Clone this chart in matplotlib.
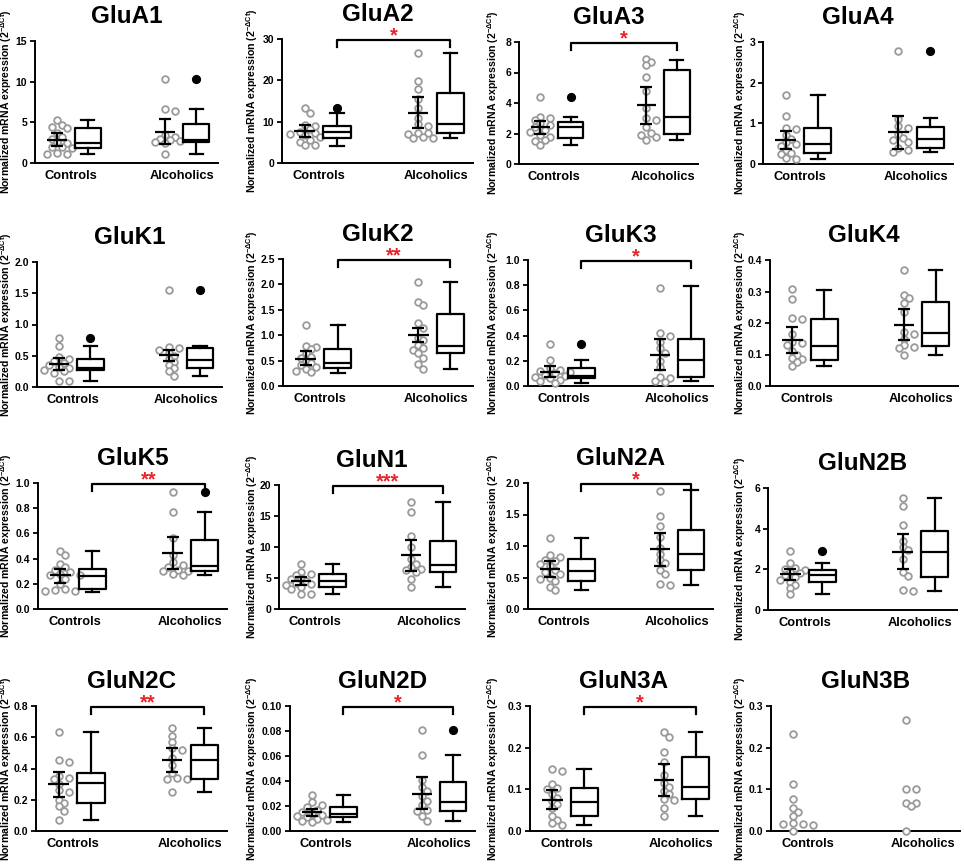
import matplotlib
matplotlib.use('Agg')
import matplotlib.pyplot as plt
import matplotlib.transforms as mtransforms
import numpy as np

plt.rcParams['font.family'] = ['Liberation Sans', 'DejaVu Sans']
plt.rcParams['font.weight'] = 'bold'
plt.rcParams['mathtext.fontset'] = 'custom'
plt.rcParams['mathtext.rm'] = 'Liberation Sans:bold'
plt.rcParams['mathtext.it'] = 'Liberation Sans:bold'
plt.rcParams['mathtext.bf'] = 'Liberation Sans:bold'
plt.rcParams['mathtext.default'] = 'bf'

# ---------------- data ----------------
genes = ['GluA1', 'GluA2', 'GluA3', 'GluA4',
         'GluK1', 'GluK2', 'GluK3', 'GluK4',
         'GluK5', 'GluN1', 'GluN2A', 'GluN2B',
         'GluN2C', 'GluN2D', 'GluN3A', 'GluN3B']
group_labels = ['Controls', 'Alcoholics']
y_max = [15, 30, 8, 3, 2.0, 2.5, 1.0, 0.4, 1.0, 20, 2.0, 6, 0.8, 0.10, 0.3, 0.3]
y_step = [5, 10, 2, 1, 0.5, 0.5, 0.2, 0.1, 0.2, 5, 0.5, 2, 0.2, 0.02, 0.1, 0.1]
y_decimals = [0, 0, 0, 0, 1, 1, 1, 1, 1, 0, 1, 0, 1, 2, 1, 1]
significance = ['', '*', '*', '', '', '**', '*', '', '**', '***', '*', '', '**', '*', '*', '']

# individual values: controls / alcoholics
GluA1_ctrl = [5.3, 4.7, 4.45, 4.3, 3.7, 3.2, 3.0, 2.6, 2.45, 2.0, 2.0, 1.9, 1.2, 1.15, 1.15]
GluA1_alc = [10.3, 6.6, 6.4, 3.4, 3.2, 3.0, 2.85, 2.7, 2.55, 2.45, 1.1]
GluA2_ctrl = [13.3, 12.0, 9.2, 9.0, 8.2, 7.6, 7.2, 7.0, 6.8, 6.4, 5.6, 5.2, 4.3, 4.3]
GluA2_alc = [26.5, 19.8, 17.8, 15.5, 13.2, 11.0, 9.5, 9.0, 7.3, 7.2, 7.0, 6.4, 6.0, 6.0]
GluA3_ctrl = [4.4, 3.1, 3.0, 2.9, 2.7, 2.55, 2.4, 2.25, 2.1, 1.9, 1.8, 1.55, 1.5, 1.25]
GluA3_alc = [6.9, 6.7, 6.5, 5.7, 4.8, 3.7, 3.0, 2.9, 2.4, 2.05, 1.9, 1.75, 1.6]
GluA4_ctrl = [1.7, 1.17, 0.88, 0.85, 0.72, 0.62, 0.55, 0.5, 0.45, 0.35, 0.27, 0.25, 0.14, 0.12]
GluA4_alc = [2.77, 1.1, 0.93, 0.88, 0.75, 0.65, 0.6, 0.55, 0.4, 0.35, 0.3]
GluK1_ctrl = [0.78, 0.66, 0.48, 0.45, 0.42, 0.38, 0.35, 0.32, 0.3, 0.28, 0.25, 0.22, 0.1, 0.1]
GluK1_alc = [1.56, 0.64, 0.62, 0.6, 0.55, 0.5, 0.45, 0.4, 0.35, 0.3, 0.25, 0.18]
GluK2_ctrl = [1.2, 0.78, 0.77, 0.72, 0.65, 0.58, 0.55, 0.5, 0.45, 0.42, 0.38, 0.33, 0.3, 0.27]
GluK2_alc = [2.05, 1.65, 1.6, 1.24, 1.15, 0.95, 0.9, 0.8, 0.75, 0.7, 0.65, 0.55, 0.43, 0.33]
GluK3_ctrl = [0.33, 0.21, 0.14, 0.13, 0.12, 0.11, 0.1, 0.09, 0.08, 0.07, 0.06, 0.05, 0.04, 0.02]
GluK3_alc = [0.78, 0.42, 0.40, 0.35, 0.30, 0.26, 0.20, 0.15, 0.07, 0.06, 0.04, 0.035]
GluK4_ctrl = [0.307, 0.275, 0.215, 0.213, 0.165, 0.14, 0.135, 0.13, 0.11, 0.1, 0.09, 0.085, 0.075, 0.065]
GluK4_alc = [0.367, 0.29, 0.28, 0.265, 0.235, 0.17, 0.165, 0.15, 0.13, 0.125, 0.12, 0.098]
GluK5_ctrl = [0.46, 0.43, 0.36, 0.33, 0.31, 0.29, 0.28, 0.27, 0.27, 0.24, 0.2, 0.16, 0.15, 0.14, 0.14]
GluK5_alc = [0.93, 0.77, 0.56, 0.43, 0.37, 0.35, 0.33, 0.31, 0.3, 0.3, 0.28, 0.27]
GluN1_ctrl = [7.2, 6.0, 5.6, 5.5, 5.0, 4.8, 4.5, 4.2, 4.0, 3.8, 3.5, 3.2, 2.5, 2.5]
GluN1_alc = [17.3, 15.7, 11.8, 10.0, 8.0, 7.3, 6.8, 6.5, 6.3, 6.0, 4.8, 3.5]
GluN2A_ctrl = [1.12, 0.85, 0.82, 0.78, 0.76, 0.72, 0.68, 0.62, 0.58, 0.55, 0.5, 0.47, 0.45, 0.35, 0.3]
GluN2A_alc = [1.88, 1.48, 1.32, 1.15, 0.97, 0.88, 0.78, 0.73, 0.62, 0.55, 0.4, 0.38]
GluN2B_ctrl = [2.9, 2.3, 2.05, 2.0, 1.95, 1.85, 1.8, 1.7, 1.6, 1.5, 1.4, 1.25, 1.1, 0.8]
GluN2B_alc = [5.5, 5.1, 4.2, 3.4, 3.1, 2.95, 2.5, 1.85, 1.65, 1.0, 0.95]
GluN2C_ctrl = [0.635, 0.455, 0.44, 0.35, 0.34, 0.33, 0.30, 0.26, 0.25, 0.20, 0.18, 0.16, 0.13, 0.07]
GluN2C_alc = [0.66, 0.61, 0.57, 0.53, 0.52, 0.47, 0.42, 0.37, 0.34, 0.33, 0.33, 0.25]
GluN2D_ctrl = [0.029, 0.023, 0.021, 0.019, 0.017, 0.015, 0.014, 0.013, 0.012, 0.011, 0.010, 0.009, 0.008, 0.007]
GluN2D_alc = [0.081, 0.061, 0.041, 0.035, 0.032, 0.028, 0.024, 0.021, 0.017, 0.016, 0.012, 0.008]
GluN3A_ctrl = [0.148, 0.145, 0.112, 0.103, 0.1, 0.09, 0.08, 0.072, 0.065, 0.055, 0.037, 0.027, 0.02, 0.015]
GluN3A_alc = [0.238, 0.225, 0.19, 0.165, 0.135, 0.115, 0.105, 0.095, 0.088, 0.078, 0.075, 0.056, 0.035]
GluN3B_ctrl = [0.232, 0.112, 0.077, 0.055, 0.045, 0.037, 0.02, 0.018, 0.016, 0.015, 0.0]
GluN3B_alc = [0.267, 0.1, 0.1, 0.068, 0.067, 0.06, 0.0]

# mean with CI: (mean, low, high) for controls, alcoholics
GluA1_mean = [(2.86, 2.1, 3.67), (3.84, 2.37, 5.4)]
GluA2_mean = [(7.64, 6.36, 9.1), (12.1, 8.4, 16.0)]
GluA3_mean = [(2.4, 1.95, 2.85), (3.85, 2.6, 5.05)]
GluA4_mean = [(0.59, 0.37, 0.82), (0.78, 0.38, 1.17)]
GluK1_mean = [(0.37, 0.27, 0.47), (0.52, 0.42, 0.6)]
GluK2_mean = [(0.54, 0.41, 0.68), (1.0, 0.87, 1.14)]
GluK3_mean = [(0.11, 0.07, 0.155), (0.25, 0.125, 0.375)]
GluK4_mean = [(0.147, 0.105, 0.187), (0.195, 0.146, 0.244)]
GluK5_mean = [(0.27, 0.21, 0.32), (0.445, 0.32, 0.57)]
GluN1_mean = [(4.5, 3.8, 5.2), (8.65, 6.2, 11.1)]
GluN2A_mean = [(0.63, 0.51, 0.76), (0.95, 0.68, 1.2)]
GluN2B_mean = [(1.75, 1.47, 2.02), (2.87, 2.0, 3.75)]
GluN2C_mean = [(0.3, 0.22, 0.38), (0.455, 0.375, 0.53)]
GluN2D_mean = [(0.015, 0.012, 0.018), (0.030, 0.018, 0.043)]
GluN3A_mean = [(0.075, 0.052, 0.098), (0.123, 0.085, 0.162)]
GluN3B_mean = None

# box plots: (whisker low, q1, median, q3, whisker high, outliers)
GluA1_box = [(1.15, 1.85, 2.4, 4.3, 5.3, []), (1.1, 2.6, 2.86, 4.75, 6.6, [10.3])]
GluA2_box = [(4.1, 6.0, 7.4, 9.0, 12.0, [13.3]), (6.0, 7.2, 9.5, 16.9, 26.5, [])]
GluA3_box = [(1.25, 1.7, 2.45, 2.75, 3.1, [4.4]), (1.6, 1.95, 3.05, 6.15, 6.85, [])]
GluA4_box = [(0.13, 0.27, 0.5, 0.88, 1.7, []), (0.3, 0.4, 0.62, 0.91, 1.12, [2.77])]
GluK1_box = [(0.1, 0.27, 0.31, 0.45, 0.66, [0.78]), (0.18, 0.31, 0.43, 0.62, 0.65, [1.56])]
GluK2_box = [(0.26, 0.36, 0.45, 0.73, 1.2, []), (0.33, 0.64, 0.78, 1.42, 2.05, [])]
GluK3_box = [(0.02, 0.06, 0.08, 0.14, 0.21, [0.33]), (0.04, 0.07, 0.21, 0.37, 0.79, [])]
GluK4_box = [(0.065, 0.082, 0.127, 0.213, 0.306, []), (0.098, 0.127, 0.167, 0.268, 0.367, [])]
GluK5_box = [(0.135, 0.16, 0.265, 0.32, 0.46, []), (0.27, 0.3, 0.345, 0.55, 0.77, [0.93])]
GluN1_box = [(2.5, 3.6, 4.5, 5.6, 7.2, []), (3.5, 6.0, 7.1, 11.0, 17.3, [])]
GluN2A_box = [(0.3, 0.45, 0.61, 0.8, 1.12, []), (0.38, 0.62, 0.87, 1.26, 1.89, [])]
GluN2B_box = [(0.8, 1.4, 1.72, 1.98, 2.3, [2.9]), (0.95, 1.63, 2.87, 3.87, 5.52, [])]
GluN2C_box = [(0.07, 0.18, 0.31, 0.37, 0.635, []), (0.25, 0.33, 0.455, 0.55, 0.66, [])]
GluN2D_box = [(0.007, 0.011, 0.0135, 0.019, 0.029, []), (0.008, 0.016, 0.023, 0.039, 0.061, [0.081])]
GluN3A_box = [(0.015, 0.036, 0.07, 0.104, 0.148, []), (0.035, 0.076, 0.106, 0.178, 0.238, [])]
GluN3B_box = None

points = [(GluA1_ctrl, GluA1_alc), (GluA2_ctrl, GluA2_alc), (GluA3_ctrl, GluA3_alc), (GluA4_ctrl, GluA4_alc),
          (GluK1_ctrl, GluK1_alc), (GluK2_ctrl, GluK2_alc), (GluK3_ctrl, GluK3_alc), (GluK4_ctrl, GluK4_alc),
          (GluK5_ctrl, GluK5_alc), (GluN1_ctrl, GluN1_alc), (GluN2A_ctrl, GluN2A_alc), (GluN2B_ctrl, GluN2B_alc),
          (GluN2C_ctrl, GluN2C_alc), (GluN2D_ctrl, GluN2D_alc), (GluN3A_ctrl, GluN3A_alc), (GluN3B_ctrl, GluN3B_alc)]
means = [GluA1_mean, GluA2_mean, GluA3_mean, GluA4_mean, GluK1_mean, GluK2_mean, GluK3_mean, GluK4_mean,
         GluK5_mean, GluN1_mean, GluN2A_mean, GluN2B_mean, GluN2C_mean, GluN2D_mean, GluN3A_mean, GluN3B_mean]
boxes = [GluA1_box, GluA2_box, GluA3_box, GluA4_box, GluK1_box, GluK2_box, GluK3_box, GluK4_box,
         GluK5_box, GluN1_box, GluN2A_box, GluN2B_box, GluN2C_box, GluN2D_box, GluN3A_box, GluN3B_box]

# ---------------- layout (pixels) ----------------
W, H = 964, 868
axes_px = [(35, 218, 41, 163), (282, 473, 39, 163), (519, 698, 42, 164), (763, 953, 42, 164),
           (37, 222, 262, 387), (283, 473, 259, 386), (528, 713, 260, 386), (770, 958, 260, 386),
           (38, 227, 483, 609), (279, 465, 485, 609), (528, 713, 483, 609), (768, 957, 488, 610),
           (36, 227, 706, 831), (290, 475, 706, 831), (530, 718, 706, 831), (771, 960, 706, 831)]
ylabel_x = [6, 252, 493, 740]
scatter_x = [1.0, 4.5]
box_x = [2.0, 5.5]
label_x = [1.45, 5.05]
XLIM = (0.3, 6.2)

ylabel_text = r'Normalized mRNA expression (2$^{-\Delta Ct}$)'
gray = '#9a9a9a'
red = '#e8242b'

fig = plt.figure(figsize=(W / 100, H / 100), dpi=100)


def swarm_positions(ax, x0, vals, diam=5.6, step=5.0):
    trans = ax.transData
    p0 = trans.transform((x0, 0.0))
    ux = trans.transform((x0 + 1.0, 0.0))[0] - p0[0]
    order = sorted(range(len(vals)), key=lambda i: -vals[i])
    placed = []
    xs = [0.0] * len(vals)
    cands = [0]
    for k in range(1, 12):
        cands += [k, -k]
    for i in order:
        py = trans.transform((x0, vals[i]))[1]
        px = 0.0
        for k in cands:
            px = k * step
            if all((px - qx) ** 2 + (py - qy) ** 2 >= diam ** 2 for qx, qy in placed):
                break
        placed.append((px, py))
        xs[i] = x0 + px / ux
    return xs


for idx, gene in enumerate(genes):
    l, r, t, b = axes_px[idx]
    ax = fig.add_axes([l / W, 1 - b / H, (r - l) / W, (b - t) / H])
    ax.set_xlim(*XLIM)
    ax.set_ylim(0, y_max[idx])
    for s in ['top', 'right']:
        ax.spines[s].set_visible(False)
    for s in ['left', 'bottom']:
        ax.spines[s].set_linewidth(1.4)
    ticks = np.round(np.arange(0, y_max[idx] + y_step[idx] / 2, y_step[idx]), 6)
    ax.set_yticks(ticks)
    ax.set_yticklabels([f'{v:.{y_decimals[idx]}f}' for v in ticks], fontsize=7.5, fontweight='bold')
    ax.tick_params(axis='y', direction='out', length=3.5, width=1.3, pad=2)
    ax.set_xticks(label_x)
    ax.set_xticklabels(group_labels, fontsize=9.3, fontweight='bold')
    ax.tick_params(axis='x', length=0, pad=5)
    ax.set_title(gene, fontsize=17.5, fontweight='bold', pad=13)

    # y label
    fig.text(ylabel_x[idx % 4] / W, 1 - ((t + b) / 2) / H, ylabel_text, rotation=90,
             ha='center', va='center', fontsize=7.6, fontweight='bold')

    # scatter points
    for g in range(2):
        vals = points[idx][g]
        xs = swarm_positions(ax, scatter_x[g], vals)
        ax.plot(xs, vals, 'o', ms=4.8, mfc='white', mec=gray, mew=1.3, ls='none',
                clip_on=False, zorder=3)

    # mean +/- CI
    if means[idx] is not None:
        for g in range(2):
            m, lo, hi = means[idx][g]
            ax.hlines(m, scatter_x[g] - 0.32, scatter_x[g] + 0.32, colors='black', lw=1.6, zorder=4)
            ax.errorbar([scatter_x[g]], [m], yerr=[[m - lo], [hi - m]], fmt='none',
                        ecolor='black', elinewidth=1.6, capsize=4.3, capthick=1.6, zorder=4)

    # boxes
    if boxes[idx] is not None:
        stats = []
        for g in range(2):
            wl, q1, med, q3, wh, fl = boxes[idx][g]
            stats.append(dict(whislo=wl, q1=q1, med=med, q3=q3, whishi=wh, fliers=fl))
        ax.bxp(stats, positions=box_x, widths=0.85, capwidths=0.42, showfliers=True,
               boxprops=dict(lw=1.6, color='black'),
               whiskerprops=dict(lw=1.6, color='black'),
               capprops=dict(lw=1.6, color='black'),
               medianprops=dict(lw=1.6, color='black'),
               flierprops=dict(marker='o', mfc='black', mec='black', ms=5.6),
               manage_ticks=False, zorder=3)

    # significance bracket
    if significance[idx]:
        tr = mtransforms.blended_transform_factory(ax.transData, ax.transAxes)
        yb = 0.99
        ax.plot([box_x[0], box_x[0], box_x[1], box_x[1]], [yb - 0.055, yb, yb, yb - 0.055],
                color='black', lw=1.6, transform=tr, clip_on=False)
        ax.text((box_x[0] + box_x[1]) / 2, yb - 0.01, significance[idx], transform=tr,
                ha='center', va='baseline', color=red, fontsize=14.5, fontweight='bold')

fig.savefig('out.png', dpi=100)
